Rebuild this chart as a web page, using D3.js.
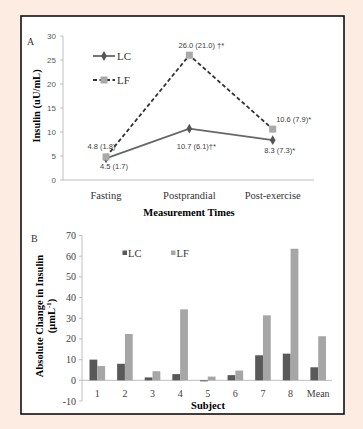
<!DOCTYPE html>
<html><head><meta charset="utf-8">
<script src="https://cdn.jsdelivr.net/npm/d3@7"></script>
<style>
body{margin:0;background:#fcece1;}
svg{display:block;}
</style></head>
<body>
<svg id="c" width="363" height="429"></svg>
<script>
// Panel A data
const timeCats = ["Fasting","Postprandial","Post-exercise"];
const lcInsulin = [4.5, 10.7, 8.3];
const lfInsulin = [4.8, 26.0, 10.6];
const lcLabels = ["4.5 (1.7)", "10.7 (6.1)\u2020*", "8.3  (7.3)*"];
const lfLabels = ["4.8 (1.8)", "26.0 (21.0) \u2020*", "10.6  (7.9)*"];
const yTicksA = [0,5,10,15,20,25,30];

// Panel B data
const subjects = ["1","2","3","4","5","6","7","8","Mean"];
const lcChange = [10.0, 8.0, 1.4, 3.0, -0.5, 2.5, 12.1, 12.9, 6.3];
const lfChange = [6.9, 22.4, 4.4, 34.3, 1.8, 4.7, 31.4, 63.6, 21.3];
const yTicksB = [-10,0,10,20,30,40,50,60,70];

const svg = d3.select("#c");
svg.append("rect").attr("x",21).attr("y",16).attr("width",323).attr("height",398)
  .attr("fill","#fff").attr("stroke","#000").attr("stroke-width",1.5);

const serif = "'Liberation Serif','Times New Roman',serif";
const sans = "'Liberation Sans',Arial,sans-serif";

// ---------- Panel A ----------
const xA = d3.scalePoint().domain(timeCats).range([106,272.7]);
const yA = d3.scaleLinear().domain([0,30]).range([180,36]);

const gA = svg.append("g");
gA.append("line").attr("x1",63).attr("x2",63).attr("y1",yA(30)).attr("y2",yA(0)).attr("stroke","#bfbfbf");
gA.selectAll(".tA").data(yTicksA).join("line").attr("x1",60).attr("x2",63)
  .attr("y1",d=>yA(d)).attr("y2",d=>yA(d)).attr("stroke","#bfbfbf");
gA.selectAll(".tlA").data(yTicksA).join("text").attr("x",56).attr("y",d=>yA(d)+3)
  .attr("text-anchor","end").attr("font-family",sans).attr("font-size",8).attr("fill","#595959").text(d=>d);
gA.append("line").attr("x1",63).attr("x2",314).attr("y1",yA(0)).attr("y2",yA(0)).attr("stroke","#bfbfbf");
gA.selectAll(".clA").data(timeCats).join("text").attr("x",d=>xA(d)).attr("y",199)
  .attr("text-anchor","middle").attr("font-family",serif).attr("font-size",10.5).attr("fill","#333").text(d=>d);
gA.append("text").attr("x",189).attr("y",216).attr("text-anchor","middle").attr("font-family",serif)
  .attr("font-weight","bold").attr("font-size",10.5).attr("fill","#000").text("Measurement Times");
gA.append("text").attr("transform","translate(40,106) rotate(-90)").attr("text-anchor","middle")
  .attr("font-family",serif).attr("font-weight","bold").attr("font-size",10.5).attr("fill","#000").text("Insulin (uU/mL)");
gA.append("text").attr("x",27).attr("y",45).attr("font-family",serif).attr("font-size",10).attr("fill","#333").text("A");

const line = d3.line().x((d,i)=>xA(timeCats[i])).y(d=>yA(d));
gA.append("path").attr("d",line(lfInsulin)).attr("fill","none").attr("stroke","#333")
  .attr("stroke-width",1.8).attr("stroke-dasharray","4,2.5");
gA.append("path").attr("d",line(lcInsulin)).attr("fill","none").attr("stroke","#666").attr("stroke-width",1.8);
const sym = d3.symbol().type(d3.symbolDiamond).size(28);
gA.selectAll(".mLC").data(lcInsulin).join("path").attr("d",sym)
  .attr("transform",(d,i)=>`translate(${xA(timeCats[i])},${yA(d)})`).attr("fill","#555");
gA.selectAll(".mLF").data(lfInsulin).join("rect")
  .attr("x",(d,i)=>xA(timeCats[i])-3.5).attr("y",d=>yA(d)-3.5).attr("width",7).attr("height",7).attr("fill","#a9a9a9");

// data labels
const lfOff = [[-4.5,-7.5],[12,-7],[21,-7]];
const lcOff = [[8,11],[7,20],[7,13]];
gA.selectAll(".dlLF").data(lfLabels).join("text")
  .attr("x",(d,i)=>xA(timeCats[i])+lfOff[i][0]).attr("y",(d,i)=>yA(lfInsulin[i])+lfOff[i][1])
  .attr("text-anchor","middle").attr("font-family",sans).attr("font-size",7.5).attr("fill","#404040").text(d=>d);
gA.selectAll(".dlLC").data(lcLabels).join("text")
  .attr("x",(d,i)=>xA(timeCats[i])+lcOff[i][0]).attr("y",(d,i)=>yA(lcInsulin[i])+lcOff[i][1])
  .attr("text-anchor","middle").attr("font-family",sans).attr("font-size",7.5).attr("fill","#404040").text(d=>d);

// legend A
const legA = gA.append("g");
legA.append("line").attr("x1",93).attr("x2",115).attr("y1",56).attr("y2",56).attr("stroke","#666").attr("stroke-width",1.8);
legA.append("path").attr("d",sym).attr("transform","translate(104,56)").attr("fill","#555");
legA.append("text").attr("x",117).attr("y",60).attr("font-family",serif).attr("font-size",11).attr("fill","#333").text("LC");
legA.append("line").attr("x1",93).attr("x2",115).attr("y1",80).attr("y2",80).attr("stroke","#333").attr("stroke-width",1.8).attr("stroke-dasharray","4,2.5");
legA.append("rect").attr("x",100.5).attr("y",76.5).attr("width",7).attr("height",7).attr("fill","#a9a9a9");
legA.append("text").attr("x",117).attr("y",84).attr("font-family",serif).attr("font-size",11).attr("fill","#333").text("LF");

// ---------- Panel B ----------
const xB = d3.scaleBand().domain(subjects).range([83.5,332]);
const yB = d3.scaleLinear().domain([-10,70]).range([401,235.5]);
const bw = 7.8;
const gB = svg.append("g");
gB.append("line").attr("x1",82).attr("x2",82).attr("y1",yB(70)).attr("y2",yB(-10)).attr("stroke","#bfbfbf");
gB.selectAll(".tB").data(yTicksB).join("line").attr("x1",79).attr("x2",82)
  .attr("y1",d=>yB(d)).attr("y2",d=>yB(d)).attr("stroke","#bfbfbf");
gB.selectAll(".tlB").data(yTicksB).join("text").attr("x",76).attr("y",d=>yB(d)+3.5)
  .attr("text-anchor","end").attr("font-family",serif).attr("font-size",10).attr("fill","#404040").text(d=>d);
gB.append("line").attr("x1",82).attr("x2",332).attr("y1",yB(0)).attr("y2",yB(0)).attr("stroke","#bfbfbf");

gB.selectAll(".bLC").data(lcChange).join("rect")
  .attr("x",(d,i)=>xB(subjects[i])+xB.bandwidth()/2-bw).attr("width",bw)
  .attr("y",d=>yB(Math.max(0,d))).attr("height",d=>Math.abs(yB(d)-yB(0))).attr("fill","#595959");
gB.selectAll(".bLF").data(lfChange).join("rect")
  .attr("x",(d,i)=>xB(subjects[i])+xB.bandwidth()/2).attr("width",bw)
  .attr("y",d=>yB(Math.max(0,d))).attr("height",d=>Math.abs(yB(d)-yB(0))).attr("fill","#a6a6a6");

gB.selectAll(".clB").data(subjects).join("text").attr("x",d=>xB(d)+xB.bandwidth()/2).attr("y",397)
  .attr("text-anchor","middle").attr("font-family",serif).attr("font-size",10).attr("fill","#404040").text(d=>d);
gB.append("text").attr("x",208).attr("y",409).attr("text-anchor","middle").attr("font-family",serif)
  .attr("font-weight","bold").attr("font-size",10.5).attr("fill","#000").text("Subject");
gB.append("text").attr("x",31).attr("y",242).attr("font-family",serif).attr("font-size",10).attr("fill","#333").text("B");
gB.append("text").attr("transform","translate(43,316) rotate(-90)").attr("text-anchor","middle")
  .attr("font-family",serif).attr("font-weight","bold").attr("font-size",10.5).attr("fill","#000").text("Absolute Change in Insulin");
const yl2 = gB.append("text").attr("transform","translate(55,316) rotate(-90)").attr("text-anchor","middle")
  .attr("font-family",serif).attr("font-weight","bold").attr("font-size",10.5).attr("fill","#000");
yl2.append("tspan").text("(\u03bcmL");
yl2.append("tspan").attr("dy",-4).attr("font-size",7).text("-1");
yl2.append("tspan").attr("dy",4).text(")");

// legend B
gB.append("rect").attr("x",122.5).attr("y",250.5).attr("width",4.5).attr("height",4.5).attr("fill","#595959");
gB.append("text").attr("x",128).attr("y",256.5).attr("font-family",serif).attr("font-size",10.5).attr("fill","#333").text("LC");
gB.append("rect").attr("x",171).attr("y",250.5).attr("width",4.5).attr("height",4.5).attr("fill","#a6a6a6");
gB.append("text").attr("x",176.5).attr("y",256.5).attr("font-family",serif).attr("font-size",10.5).attr("fill","#333").text("LF");
</script>
</body></html>
